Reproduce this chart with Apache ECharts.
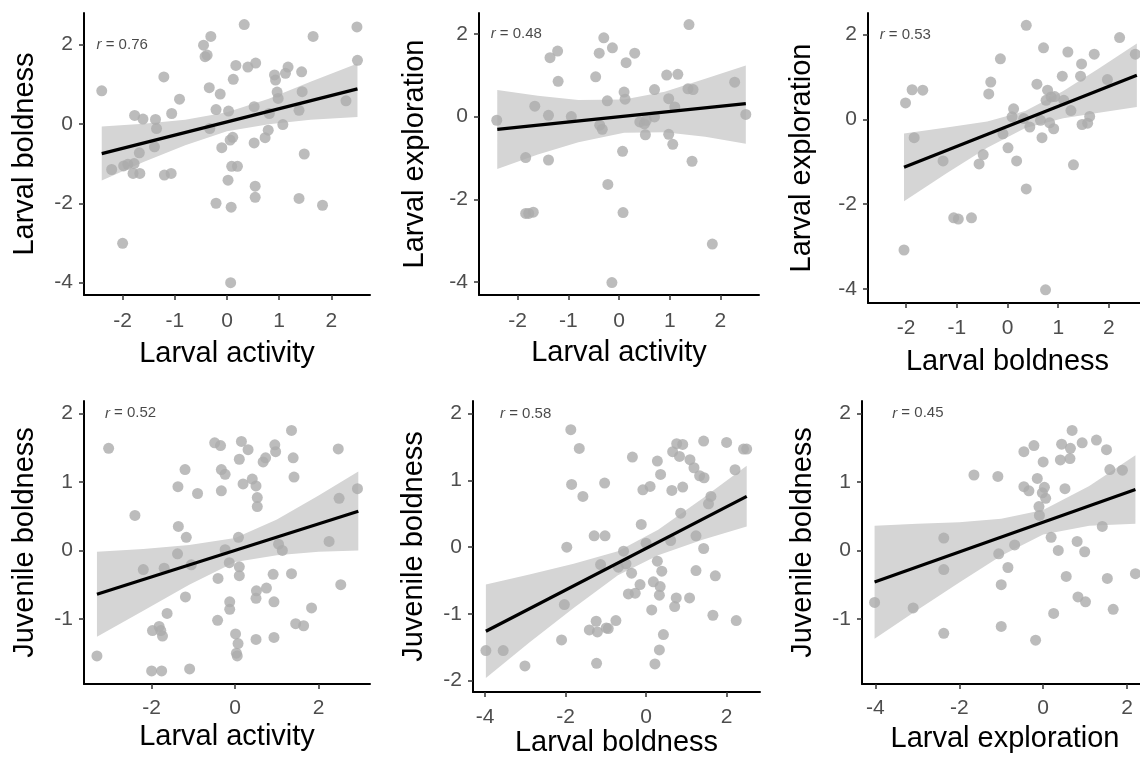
<!DOCTYPE html>
<html>
<head>
<meta charset="utf-8">
<script src="https://cdn.jsdelivr.net/npm/echarts@6/dist/echarts.min.js"></script>
<style>
html, body { margin: 0; padding: 0; background: #fff; }
#chart { width: 1140px; height: 762px; }
</style>
</head>
<body>
<div id="chart"></div>
<script>
// panel 1: larval activity vs larval boldness
var p1x = [-2.40, -2.21, -1.98, -2.00, -1.90, -1.80, -1.78, -1.67, -1.77, -1.61, -1.68, -1.37, -1.35, -1.39, -1.21, -1.20, -1.07, -1.06, -0.91, -0.45, -0.31, -0.42, -0.38, -0.34, -0.33, -0.21, -0.21, -0.13, -0.10, 0.02, 0.03, 0.07, 0.08, 0.06, 0.11, 0.12, 0.09, 0.20, 0.17, 0.33, 0.40, 0.55, 0.52, 0.52, 0.54, 0.54, 0.73, 0.79, 0.81, 0.91, 0.93, 0.96, 0.98, 1.07, 1.12, 1.17, 1.38, 1.38, 1.43, 1.44, 1.48, 1.65, 1.83, 2.28, 2.49, 2.50]
var p1y = [0.83, -1.15, -1.06, -3.01, -1.02, -1.25, -1.00, -1.25, 0.21, 0.12, -0.73, 0.11, -0.12, -0.58, 1.18, -1.29, -1.25, 0.26, 0.62, 1.98, 2.20, 1.69, 1.73, 0.91, -0.12, -2.00, 0.36, 0.75, -0.60, -1.42, 0.32, -4.00, -2.10, -0.41, -0.34, 1.12, -1.07, -1.07, 1.47, 2.50, 1.43, 1.53, 0.43, -0.48, -1.57, -1.85, -0.35, -0.16, 0.26, 1.23, 1.10, 0.80, 0.64, -0.02, 1.27, 1.43, -1.88, 0.34, 1.31, 0.81, -0.76, 2.20, -2.05, 0.58, 2.44, 1.60]
var line1X = [-2.40, 2.50]
var line1Y = [-0.75, 0.88]
var band1X = [-2.4, -1.6, -0.8, 0, 0.8, 1.6, 2.5]
var band1Lo = [-1.43, -0.96, -0.54, -0.19, -0.01, 0.10, 0.17]
var band1Hi = [-0.07, 0.00, 0.10, 0.29, 0.63, 1.06, 1.52]

// panel 2: larval activity vs larval exploration
var p2x = [-2.41, -1.84, -1.84, -1.78, -1.69, -1.66, -1.39, -1.39, -1.36, -1.21, -1.20, -0.94, -0.46, -0.39, -0.38, -0.33, -0.30, -0.23, -0.22, -0.13, -0.14, 0.07, 0.08, 0.10, 0.12, 0.14, 0.31, 0.41, 0.50, 0.54, 0.52, 0.70, 0.70, 0.94, 0.98, 0.98, 1.06, 1.10, 1.16, 1.38, 1.36, 1.46, 1.44, 1.84, 2.28, 2.50]
var p2y = [-0.09, -0.99, -2.34, -2.34, -2.31, 0.25, 0.03, -1.05, 1.42, 1.58, 0.85, 0.00, 0.96, 1.53, -0.21, -0.31, 1.90, 0.38, -1.64, 1.66, -4.01, -0.84, -2.32, 0.59, 0.42, 1.30, 1.53, -0.13, -0.18, -0.09, -0.44, 0.65, -0.01, 1.00, 0.43, -0.43, -0.67, 0.23, 1.02, 2.22, 0.67, 0.65, -1.08, -3.08, 0.83, 0.05]
var line2X = [-2.40, 2.50]
var line2Y = [-0.31, 0.31]
var band2X = [-2.4, -1.6, -0.8, 0.1, 0.9, 1.7, 2.5]
var band2Lo = [-1.27, -0.92, -0.62, -0.39, -0.38, -0.49, -0.66]
var band2Hi = [0.64, 0.50, 0.40, 0.41, 0.60, 0.91, 1.23]

// panel 3: larval boldness vs larval exploration
var p3x = [-2.04, -2.01, -1.88, -1.84, -1.67, -1.27, -1.06, -0.97, -0.71, -0.56, -0.48, -0.37, -0.33, -0.14, -0.09, 0.01, 0.09, 0.12, 0.18, 0.32, 0.37, 0.37, 0.44, 0.58, 0.65, 0.68, 0.71, 0.76, 0.79, 0.83, 0.86, 0.91, 0.93, 1.08, 1.11, 1.19, 1.25, 1.30, 1.44, 1.46, 1.47, 1.58, 1.62, 1.71, 1.97, 2.21, 2.52, 0.75]
var p3y = [-3.08, 0.39, 0.70, -0.43, 0.69, -0.98, -2.32, -2.35, -2.32, -1.05, -0.83, 0.60, 0.88, 1.43, -0.34, -0.67, 0.06, 0.25, -0.98, 0.02, -1.64, 2.22, -0.18, 0.83, -0.02, -0.43, 1.69, 0.45, 0.69, -0.08, 0.53, -0.22, 0.54, 1.02, 0.45, 1.59, 0.21, -1.07, 1.02, 1.31, -0.12, -0.09, 0.07, 1.54, 0.94, 1.93, 1.54, -4.02]
var line3X = [-2.04, 2.55]
var line3Y = [-1.13, 1.04]
var band3X = [-2.04, -1.2, -0.4, 0.35, 1.1, 1.8, 2.55]
var band3Lo = [-1.93, -1.27, -0.67, -0.20, 0.03, 0.16, 0.29]
var band3Hi = [-0.33, -0.19, -0.05, 0.20, 0.67, 1.20, 1.79]

// panel 4: larval activity vs juvenile boldness
var p4x = [-3.31, -3.03, -2.40, -2.20, -2.00, -1.76, -1.98, -1.82, -1.74, -1.78, -1.70, -1.63, -1.37, -1.36, -1.38, -1.20, -1.19, -1.17, -1.09, -1.05, -0.90, -0.49, -0.35, -0.33, -0.24, -0.33, -0.41, -0.42, -0.24, -0.14, -0.13, -0.13, 0.01, 0.03, 0.05, 0.07, 0.08, 0.10, 0.10, 0.10, 0.15, 0.19, 0.31, 0.41, 0.50, 0.53, 0.53, 0.51, 0.50, 0.50, 0.67, 0.73, 0.75, 0.91, 0.93, 0.93, 0.95, 0.97, 1.04, 1.13, 1.35, 1.35, 1.39, 1.41, 1.45, 1.64, 1.83, 2.25, 2.47, 2.49, 2.53, 2.93]
var p4y = [-1.54, 1.49, 0.51, -0.28, -1.76, -1.76, -1.17, -1.11, -1.25, -1.17, -0.26, -0.92, 0.93, 0.35, -0.05, 1.18, -0.68, 0.19, -1.73, -0.21, 0.83, 1.57, 1.53, 1.18, 1.11, 0.87, -0.41, -1.02, 0.01, -0.18, -0.75, -0.86, -1.22, -1.50, -1.54, -1.36, 0.19, 1.33, -0.24, -0.37, 1.59, 0.97, 1.47, 1.04, 0.94, 0.77, 0.64, -0.59, -0.70, -1.30, 1.29, 1.35, -0.55, -0.35, -0.75, -1.27, 1.54, 1.44, 0.09, 0.00, -0.34, 1.75, 1.35, 1.07, -1.07, -1.10, -0.84, 0.13, 1.48, 0.76, -0.50, 0.90]
var line4X = [-3.31, 2.95]
var line4Y = [-0.64, 0.57]
var band4X = [-3.31, -2.2, -1.1, 0, 1.0, 2.0, 2.95]
var band4Lo = [-1.26, -0.88, -0.50, -0.17, -0.07, -0.02, 0.00]
var band4Hi = [-0.02, 0.02, 0.08, 0.18, 0.45, 0.80, 1.15]

// panel 5: larval boldness vs juvenile boldness
var p5x = [-3.98, -3.55, -3.01, -2.10, -2.03, -1.97, -1.87, -1.85, -1.66, -1.57, -1.29, -1.23, -1.41, -1.24, -1.21, -0.99, -0.94, -1.13, -1.03, -1.02, -0.75, -0.69, -0.56, -0.50, -0.44, -0.27, -0.36, -0.34, -0.15, -0.12, 0.00, -0.08, 0.10, 0.14, 0.18, 0.22, 0.28, 0.28, 0.35, 0.36, 0.33, 0.39, 0.43, 0.33, 0.61, 0.66, 0.64, 0.71, 0.75, 0.76, 0.83, 0.91, 0.86, 0.91, 1.09, 1.08, 1.19, 1.24, 1.24, 1.33, 1.43, 1.44, 1.43, 1.55, 1.61, 1.66, 1.72, 2.00, 2.21, 2.24, 2.42, 2.50]
var p5y = [-1.55, -1.55, -1.78, -1.39, -0.86, 0.00, 1.76, 0.94, 1.48, 0.76, 0.17, -1.74, -1.24, -1.11, -1.27, -1.21, -1.22, -0.26, 0.96, 0.17, -1.10, -0.30, -0.06, -0.25, -0.70, -0.69, -0.39, 1.35, -0.56, 0.34, 0.06, 0.86, 0.91, -0.94, -0.52, -1.75, 1.29, -0.21, -0.59, 1.09, -1.54, -0.36, -1.31, -0.72, 0.10, 1.43, 0.85, -0.89, -0.76, 1.55, 1.36, 1.54, 0.51, 0.90, 1.31, -0.76, 1.19, 0.17, -0.35, 1.07, 1.59, 1.04, -0.02, 0.65, 0.76, -1.02, -0.43, 1.57, 1.16, -1.10, 1.47, 1.47]
var line5X = [-3.98, 2.50]
var line5Y = [-1.26, 0.76]
var band5X = [-3.98, -2.9, -1.8, -0.7, 0.3, 1.4, 2.5]
var band5Lo = [-1.96, -1.43, -0.91, -0.42, -0.12, 0.11, 0.31]
var band5Hi = [-0.56, -0.41, -0.25, -0.06, 0.26, 0.73, 1.22]

// panel 6: larval exploration vs juvenile boldness
var p6x = [-4.02, -3.10, -2.37, -2.37, -2.37, -1.65, -1.08, -1.06, -1.00, -1.00, -0.84, -0.68, -0.46, -0.46, -0.34, -0.22, -0.18, -0.14, -0.10, -0.09, -0.02, 0.00, 0.03, 0.06, 0.19, 0.25, 0.36, 0.41, 0.44, 0.55, 0.52, 0.64, 0.65, 0.69, 0.81, 0.83, 0.93, 0.99, 1.01, 1.27, 1.41, 1.51, 1.53, 1.59, 1.67, 1.89, 2.20]
var p6y = [-0.76, -0.84, 0.18, -0.28, -1.21, 1.10, 1.08, -0.05, -0.50, -1.11, -0.25, 0.08, 1.44, 0.93, 0.87, 1.53, -1.31, 1.05, 0.64, 0.51, 0.84, 1.29, 0.92, 0.76, 0.19, -0.92, 0.00, 1.32, 1.55, -0.38, 0.90, 1.34, 1.49, 1.75, 0.13, -0.68, 1.57, -0.02, -0.75, 1.61, 0.35, 1.47, -0.41, 1.18, -0.86, 1.17, -0.34]
var line6X = [-4.02, 2.20]
var line6Y = [-0.46, 0.89]
var band6X = [-4.02, -3.0, -2.0, -1.0, 0, 1.1, 2.2]
var band6Lo = [-1.29, -0.87, -0.47, -0.08, 0.23, 0.36, 0.39]
var band6Hi = [0.36, 0.39, 0.41, 0.46, 0.59, 0.94, 1.39]

var rValues = ['0.76', '0.48', '0.53', '0.52', '0.58', '0.45']
var xNames = ['Larval activity', 'Larval activity', 'Larval boldness', 'Larval activity', 'Larval boldness', 'Larval exploration']
var yNames = ['Larval boldness', 'Larval exploration', 'Larval exploration', 'Juvenile boldness', 'Juvenile boldness', 'Juvenile boldness']
var xTicks = [[-2, -1, 0, 1, 2], [-2, -1, 0, 1, 2], [-2, -1, 0, 1, 2], [-2, 0, 2], [-4, -2, 0, 2], [-4, -2, 0, 2]]
var yTicks = [[-4, -2, 0, 2], [-4, -2, 0, 2], [-4, -2, 0, 2], [-1, 0, 1, 2], [-2, -1, 0, 1, 2], [-1, 0, 1, 2]]

var FONT = 'Liberation Sans, Arial, sans-serif'

var panels = [
  {px: p1x, py: p1y, lx: line1X, ly: line1Y, bx: band1X, lo: band1Lo, hi: band1Hi, rx: -2.5,
    xr: [-2.74, 2.74], yr: [-4.31, 2.79], grid: {left: 84, top: 13, width: 286, height: 282}, xGap: 44, yGap: 45, xm: 16},
  {px: p2x, py: p2y, lx: line2X, ly: line2Y, bx: band2X, lo: band2Lo, hi: band2Hi, rx: -2.53,
    xr: [-2.76, 2.76], yr: [-4.31, 2.50], grid: {left: 479, top: 13, width: 280, height: 282}, xGap: 43, yGap: 50, xm: 16},
  {px: p3x, py: p3y, lx: line3X, ly: line3Y, bx: band3X, lo: band3Lo, hi: band3Hi, rx: -2.52,
    xr: [-2.75, 2.75], yr: [-4.33, 2.51], grid: {left: 868, top: 13, width: 279, height: 290}, xGap: 44, yGap: 52, xm: 14.5},
  {px: p4x, py: p4y, lx: line4X, ly: line4Y, bx: band4X, lo: band4Lo, hi: band4Hi, rx: -3.12,
    xr: [-3.62, 3.23], yr: [-1.95, 2.18], grid: {left: 84, top: 401, width: 286, height: 283}, xGap: 38, yGap: 45, xm: 14},
  {px: p5x, py: p5y, lx: line5X, ly: line5Y, bx: band5X, lo: band5Lo, hi: band5Hi, rx: -3.63,
    xr: [-4.30, 2.83], yr: [-2.17, 2.19], grid: {left: 473, top: 401, width: 287, height: 291}, xGap: 33, yGap: 45, xm: 14.5},
  {px: p6x, py: p6y, lx: line6X, ly: line6Y, bx: band6X, lo: band6Lo, hi: band6Hi, rx: -3.60,
    xr: [-4.32, 2.50], yr: [-1.95, 2.18], grid: {left: 862, top: 401, width: 286, height: 283}, xGap: 40, yGap: 45, xm: 14}
]

function zip (a, b) {
  return a.map(function (v, i) { return [v, b[i]] })
}

var grids = []
var xAxes = []
var yAxes = []
var series = []

panels.forEach(function (p, i) {
  var g = p.grid
  grids.push({left: g.left, top: g.top, width: g.width, height: g.height, containLabel: false, outerBoundsMode: 'none'})
  xAxes.push({
    type: 'value',
    gridIndex: i,
    min: p.xr[0],
    max: p.xr[1],
    name: xNames[i],
    nameLocation: 'middle',
    nameGap: p.xGap,
    nameTextStyle: {fontSize: 29, color: '#000', fontFamily: FONT},
    axisLine: {onZero: false, lineStyle: {color: '#000', width: 2}},
    axisTick: {show: true, length: 5, customValues: xTicks[i], lineStyle: {color: '#333', width: 1.5}},
    axisLabel: {customValues: xTicks[i], fontSize: 21, color: '#4d4d4d', margin: p.xm, fontFamily: FONT},
    splitLine: {show: false}
  })
  yAxes.push({
    type: 'value',
    gridIndex: i,
    min: p.yr[0],
    max: p.yr[1],
    name: yNames[i],
    nameLocation: 'middle',
    nameGap: p.yGap,
    nameTextStyle: {fontSize: 29, color: '#000', fontFamily: FONT},
    axisLine: {onZero: false, lineStyle: {color: '#000', width: 2}},
    axisTick: {show: true, length: 5, customValues: yTicks[i], lineStyle: {color: '#333', width: 1.5}},
    axisLabel: {customValues: yTicks[i], fontSize: 21, color: '#4d4d4d', margin: 11, fontFamily: FONT},
    splitLine: {show: false}
  })
  series.push({
    type: 'custom',
    xAxisIndex: i,
    yAxisIndex: i,
    silent: true,
    z: 1,
    data: [[p.bx[0], p.lo[0]]],
    renderItem: function (params, api) {
      var pts = []
      for (var k = 0; k < p.bx.length; k++) pts.push(api.coord([p.bx[k], p.hi[k]]))
      for (var k2 = p.bx.length - 1; k2 >= 0; k2--) pts.push(api.coord([p.bx[k2], p.lo[k2]]))
      return {type: 'polygon', shape: {points: pts}, style: {fill: '#d5d5d5'}}
    }
  })
  series.push({
    type: 'scatter',
    xAxisIndex: i,
    yAxisIndex: i,
    z: 2,
    symbolSize: 11,
    itemStyle: {color: '#ababab'},
    data: zip(p.px, p.py)
  })
  series.push({
    type: 'line',
    xAxisIndex: i,
    yAxisIndex: i,
    z: 3,
    symbol: 'none',
    lineStyle: {color: '#000', width: 3.2},
    data: zip(p.lx, p.ly)
  })
  series.push({
    type: 'scatter',
    xAxisIndex: i,
    yAxisIndex: i,
    z: 4,
    symbolSize: 0,
    data: [[p.rx, 2]],
    label: {
      show: true,
      position: 'right',
      distance: 0,
      formatter: '{i|r} = ' + rValues[i],
      fontSize: 15,
      color: '#1a1a1a',
      fontFamily: FONT,
      rich: {i: {fontStyle: 'italic', fontSize: 15, color: '#1a1a1a', fontFamily: FONT}}
    }
  })
})

var chart = echarts.init(document.getElementById('chart'), null, {renderer: 'canvas'})
chart.setOption({
  animation: false,
  backgroundColor: '#fff',
  grid: grids,
  xAxis: xAxes,
  yAxis: yAxes,
  series: series
})
</script>
</body>
</html>
